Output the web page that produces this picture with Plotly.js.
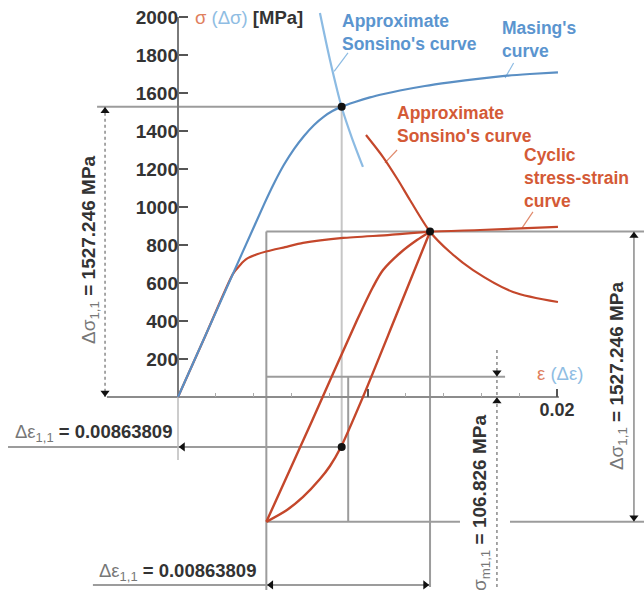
<!DOCTYPE html>
<html><head><meta charset="utf-8">
<script src="https://cdn.plot.ly/plotly-3.0.1.min.js"></script>
<style>html,body{margin:0;padding:0;background:#fff}</style>
</head><body><div id="chart" style="width:644px;height:590px"></div>
<script>
// ---- key values ----
const dEps = 0.00863809;
const dSigma = 1527.246;
const sigmaM = 106.826;
const epsMax = 0.0133;
const sigmaMax = sigmaM + dSigma / 2;
const epsMin = epsMax - dEps;
const sigmaMin = sigmaM - dSigma / 2;
const epsM = (epsMax + epsMin) / 2;
const sigmaCross = -263; // level of the Δε dimension line

// ---- ticks ----
const yTickVals = [200, 400, 600, 800, 1000, 1200, 1400, 1600, 1800, 2000];
const xTickVals = [0.01, 0.02];
const xTickText = ['', '0.02'];
const xMinorVals = [0.002, 0.004, 0.006, 0.008, 0.012, 0.014, 0.016, 0.018];

// ---- curves (strain, stress MPa) ----
const masingEps = [0, 0.00227, 0.00454, 0.00507, 0.00559, 0.00612, 0.00665, 0.00718, 0.0077, 0.00815, 0.0086, 0.00934, 0.01013, 0.01092, 0.01171, 0.01303, 0.01435, 0.01594, 0.01736, 0.01857, 0.02005];
const masingSig = [0, 507, 1014, 1125, 1222, 1305, 1374, 1432, 1476, 1505, 1527, 1553, 1577, 1596, 1613, 1637, 1656, 1676, 1691, 1700, 1709];

const cyclicEps = [0, 0.00145, 0.0029, 0.00327, 0.00364, 0.00417, 0.0047, 0.00565, 0.0066, 0.00871, 0.01119, 0.0133, 0.01594, 0.01842, 0.02005];
const cyclicSig = [0, 324, 648, 694, 728, 751, 767, 789, 811, 837, 853, 870, 879, 889, 895];

const sonsBlueEps = [0.00749, 0.00802, 0.00865, 0.00918, 0.00976];
const sonsBlueSig = [2021, 1774, 1521, 1363, 1211];

const sonsRedEps = [0.00992, 0.01082, 0.01161, 0.01224, 0.0133, 0.01435, 0.01557, 0.01768, 0.02005];
const sonsRedSig = [1379, 1263, 1142, 1037, 870, 763, 668, 553, 500];

const loopUpEps = [0.004662, 0.00707, 0.00945, 0.01029, 0.01082, 0.01172, 0.01261, 0.0133];
const loopUpSig = [-657, -126, 405, 579, 668, 758, 826, 870];

const loopDnEps = [0.0133, 0.0115, 0.00976, 0.0086, 0.00802, 0.00749, 0.0066, 0.00575, 0.004662];
const loopDnSig = [870, 426, 0, -263, -363, -432, -526, -595, -657];

// ---- colours ----
const BLUE = '#5a8fc4', BLUE_T = '#5b95cf', BLUE_L = '#8cbbe3';
const RED = '#c4472b', RED_T = '#d45a36';
const GRAY = '#9c9c9c', DARK = '#333333';

const xr = [-0.009393, 0.024591];
const yr = [-1015.8, 2089.5];

function curve(x, y, color, w, sm) {
  return {x: x, y: y, type: 'scatter', mode: 'lines', hoverinfo: 'skip', showlegend: false,
    line: {color: color, width: w, shape: 'spline', smoothing: sm || 0.8}};
}
const traces = [
  curve(sonsBlueEps, sonsBlueSig, BLUE_L, 2.2),
  curve(cyclicEps, cyclicSig, RED, 2.2, 0.6),
  curve(masingEps, masingSig, BLUE, 2.2, 0.6),
  curve(sonsRedEps, sonsRedSig, RED, 2.2),
  curve(loopUpEps, loopUpSig, RED, 2.4),
  curve(loopDnEps, loopDnSig, RED, 2.4),
  {x: [dEps, epsMax, dEps], y: [dSigma, sigmaMax, sigmaCross], type: 'scatter', mode: 'markers',
   hoverinfo: 'skip', showlegend: false, marker: {color: '#111', size: 8}},
  // arrowheads of dimension lines
  {x: [-0.00385, -0.00385, 0.02406, 0.02406, epsMin + 0.00025, epsMax - 0.00025, 0.00025, 0.01683, 0.01683],
   y: [dSigma - 22, 22, sigmaMax - 22, sigmaMin + 22, -989, -989, sigmaCross, sigmaM + 22, -22],
   type: 'scatter', mode: 'markers', hoverinfo: 'skip', showlegend: false,
   marker: {color: '#111', size: 8, symbol: ['triangle-up', 'triangle-down', 'triangle-up', 'triangle-down',
     'triangle-left', 'triangle-right', 'triangle-left', 'triangle-down', 'triangle-up']}}
];

function seg(x0, y0, x1, y1, color, w, dash) {
  return {type: 'line', xref: 'x', yref: 'y', x0: x0, y0: y0, x1: x1, y1: y1, layer: 'below',
    line: {color: color, width: w, dash: dash || 'solid'}};
}
const shapes = [
  seg(-0.00427, dSigma, dEps, dSigma, GRAY, 2),
  seg(dEps, dSigma, dEps, sigmaCross, '#c6c6c6', 2),
  seg(epsMin, sigmaMax, xr[1], sigmaMax, GRAY, 2),
  seg(epsMin, sigmaMax, epsMin, yr[0], GRAY, 2),
  seg(epsMin, sigmaMin, 0.01488, sigmaMin, GRAY, 2),
  seg(0.01752, sigmaMin, xr[1], sigmaMin, GRAY, 2),
  seg(epsMax, sigmaMax, epsMax, -1000, GRAY, 2),
  seg(-0.00449, -989, epsMax, -989, GRAY, 2),
  seg(-0.00897, sigmaCross, dEps, sigmaCross, GRAY, 2),
  seg(epsMin, sigmaM, 0.01726, sigmaM, GRAY, 2),
  seg(epsM, sigmaM, epsM, sigmaMin, GRAY, 2),
  seg(0.01683, 247, 0.01683, yr[0], '#8a8a8a', 1.5, 'dot'),
  seg(-0.00385, dSigma, -0.00385, 0, '#8a8a8a', 1.5, 'dot'),
  seg(0.02406, sigmaMax, 0.02406, sigmaMin, '#8a8a8a', 1.5),
  seg(-0.00375, 0, 0.0201, 0, '#8c8c8c', 2),
  seg(0, 0, 0, 2000, '#7a7a7a', 2),
  seg(0, 0, 0, -332, '#bbbbbb', 1.5),
  // leader lines
  seg(0.00897, 1811, 0.00824, 1714, BLUE_L, 1.2),
  seg(0.01771, 1758, 0.01726, 1679, BLUE_L, 1.2),
  seg(0.01156, 1300, 0.01092, 1232, '#e08a6c', 1.2),
  seg(0.01873, 974, 0.01815, 889, '#e08a6c', 1.2)
];

const F = 'Liberation Sans, Arial, sans-serif';
function lab(x, y, text, color, size, opts) {
  return Object.assign({x: x, y: y, xref: 'x', yref: 'y', text: text, showarrow: false,
    xanchor: 'left', yanchor: 'middle', align: 'left',
    font: {family: F, size: size, color: color, weight: 'bold'}}, opts || {});
}
const G = "<span style='color:#777;font-weight:normal'>";
const dEpsTxt = G + "Δε<sub>1,1</sub></span> = " + dEps;
const dSigTxt = G + "Δσ<sub>1,1</sub></span> = " + dSigma + ' MPa';
const sigMTxt = G + "σ<sub>m1,1</sub></span> = " + sigmaM + ' MPa';

const annotations = [
  lab(0.00079, 2000, "<span style='color:#e0805e;font-weight:normal'>σ</span> <span style='color:#8fbde3;font-weight:normal'>(Δσ)</span> [MPa]", DARK, 18.5),
  lab(0.01884, 126, "<span style='color:#e0805e'>ε</span> <span style='color:#8fbde3'>(Δε)</span>", DARK, 18.5, {font: {family: F, size: 18.5, weight: 'normal'}}),
  lab(0.00855, 1916, 'Approximate<br>Sonsino\'s curve', BLUE_T, 17.5),
  lab(0.01699, 1879, 'Masing\'s<br>curve', BLUE_T, 17.5),
  lab(0.01145, 1432, 'Approximate<br>Sonsino\'s curve', RED_T, 17.5),
  lab(0.01815, 1153, 'Cyclic<br>stress-strain<br>curve', RED_T, 17.5),
  lab(-0.00871, -189, dEpsTxt, DARK, 18.5),
  lab(-0.00427, -921, dEpsTxt, DARK, 18.5),
  lab(-0.00464, 774, dSigTxt, DARK, 19, {xanchor: 'center', textangle: -90}),
  lab(0.02322, 110, dSigTxt, DARK, 19, {xanchor: 'center', textangle: -90}),
  lab(0.01599, -558, sigMTxt, DARK, 19, {xanchor: 'center', textangle: -90})
];

const layout = {
  width: 644, height: 590, margin: {l: 0, r: 0, t: 0, b: 0},
  paper_bgcolor: '#ffffff', plot_bgcolor: '#ffffff', showlegend: false,
  xaxis: {range: xr, domain: [0, 1], anchor: 'free', position: (0 - yr[0]) / (yr[1] - yr[0]),
    showgrid: false, zeroline: false, showline: false,
    tickmode: 'array', tickvals: xTickVals, ticktext: xTickText, ticks: 'inside', ticklen: 8, tickwidth: 2, tickcolor: '#555',
    minor: {tickmode: 'array', tickvals: xMinorVals, ticks: 'inside', ticklen: 4, tickwidth: 1, tickcolor: '#aaa'},
    tickfont: {family: F, size: 18, color: DARK, weight: 'bold'}, fixedrange: true},
  yaxis: {range: yr, domain: [0, 1], anchor: 'free', position: (0 - xr[0]) / (xr[1] - xr[0]),
    showgrid: false, zeroline: false, showline: false,
    tickmode: 'array', tickvals: yTickVals, ticks: 'inside', ticklen: 9, tickwidth: 2, tickcolor: '#555',
    tickfont: {family: F, size: 19, color: DARK, weight: 'bold'}, fixedrange: true},
  shapes: shapes, annotations: annotations
};
Plotly.newPlot('chart', traces, layout, {staticPlot: true, displayModeBar: false});
</script></body></html>
